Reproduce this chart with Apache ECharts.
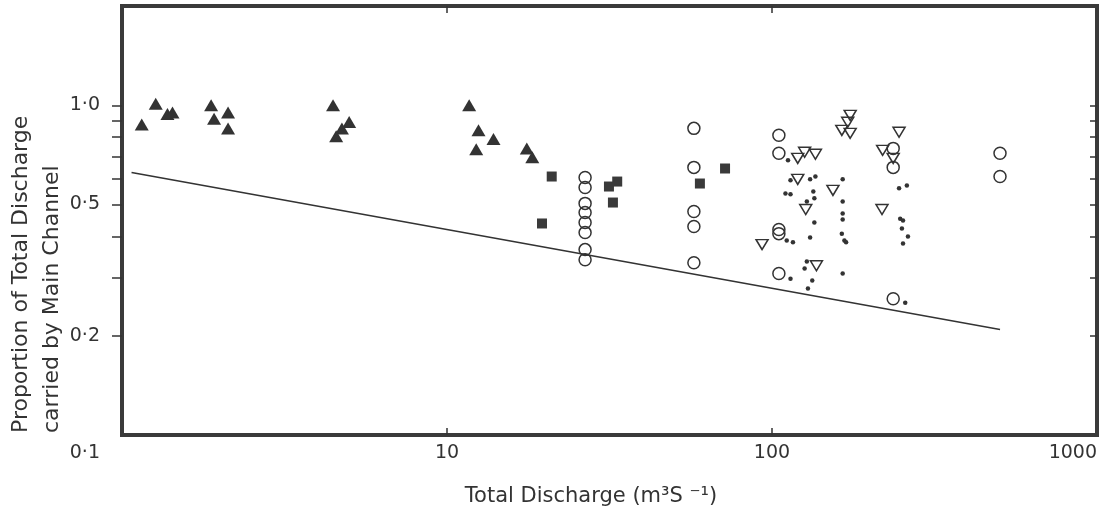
<!DOCTYPE html>
<html>
<head>
<meta charset="utf-8">
<title>Main channel share of total discharge</title>
<script src="https://cdn.jsdelivr.net/npm/echarts@6/dist/echarts.min.js"></script>
<style>
  html, body { margin: 0; padding: 0; background: #fff; }
  #chart { width: 1105px; height: 517px; }
</style>
</head>
<body>
<div id="chart"></div>
<script>
// [total discharge m3/s, proportion carried by main channel]
const triUp = [[1.15,0.875],[1.27,1.01],[1.38,0.94],[1.43,0.95],[1.88,1.0],[1.92,0.91],[2.12,0.95],[2.12,0.85],
  [4.46,1.0],[5.0,0.89],[4.75,0.85],[4.56,0.805],[11.7,1.0],[12.5,0.84],[13.9,0.79],[12.3,0.735],[17.6,0.74],[18.3,0.695]];
const squares = [[21.0,0.608],[19.6,0.438],[33.4,0.587],[31.5,0.567],[32.4,0.507],[60.0,0.579],[71.7,0.643]];
const circles = [[26.6,0.604],[26.6,0.563],[26.6,0.504],[26.6,0.473],[26.6,0.441],[26.6,0.411],[26.6,0.365],[26.6,0.340],
  [57.5,0.851],[57.5,0.648],[57.5,0.476],[57.5,0.429],[57.5,0.333],
  [105,0.811],[105,0.715],[105,0.420],[105,0.408],[105,0.309],
  [236,0.740],[236,0.648],[236,0.259],[503,0.715],[503,0.608]];
const triDown = [[174,0.932],[171,0.888],[164,0.839],[174,0.822],[246,0.828],[219,0.730],[236,0.690],[120,0.690],
  [126,0.720],[136,0.710],[120,0.596],[127,0.483],[93.2,0.378],[137,0.326],[154,0.552],[218,0.483]];
const dots = [[112,0.681],[114,0.592],[110,0.540],[114,0.537],[111,0.389],[116,0.384],[114,0.298],
  [131,0.596],[136,0.608],[134,0.548],[128,0.511],[135,0.522],[135,0.441],[131,0.397],[128,0.336],[126,0.320],[133,0.294],[129,0.278],
  [165,0.596],[165,0.511],[165,0.470],[165,0.450],[164,0.408],[167,0.389],[169,0.384],[165,0.309],
  [246,0.560],[260,0.571],[248,0.453],[253,0.447],[251,0.423],[262,0.400],[253,0.381],[257,0.252]];
const lineFit = [[1.07,0.625],[503,0.209]];

const xLabels = [10, 100, 1000];
const xTicks = [10, 100];
const yLabels = [0.1, 0.2, 0.5, 1.0];
const yTicks = [0.2, 0.3, 0.4, 0.5, 0.6, 0.7, 0.8, 0.9, 1.0];

const ink = '#333';
const font = '"DejaVu Sans", sans-serif';

let chart = echarts.init(document.getElementById('chart'));

let xAxisBase = {
  type: 'log', logBase: 10, min: 1, max: 1000,
  axisLine: { show: false },
  splitLine: { show: false },
  axisTick: { customValues: xTicks, inside: true, length: 7, lineStyle: { color: ink, width: 1.5 } }
};
let yAxisBase = {
  type: 'log', logBase: 10, min: 0.1, max: 2,
  axisLine: { show: false },
  splitLine: { show: false }
};

let option = {
  animation: false,
  backgroundColor: '#fff',
  grid: { left: 122, right: 8, top: 6, bottom: 82, show: true, borderColor: '#3a3a3a', borderWidth: 4 },
  xAxis: [
    Object.assign({}, xAxisBase, {
      position: 'bottom',
      axisLabel: {
        customValues: xLabels, margin: 9, color: ink, fontFamily: font, fontSize: 19,
        alignMaxLabel: 'right',
        formatter: v => String(Math.round(v))
      }
    }),
    Object.assign({}, xAxisBase, { position: 'top', axisLabel: { show: false } })
  ],
  yAxis: [
    Object.assign({}, yAxisBase, {
      position: 'left',
      axisTick: { customValues: yTicks, inside: false, length: 10, lineStyle: { color: ink, width: 1.5 } },
      axisLabel: {
        customValues: yLabels, margin: 22, color: ink, fontFamily: font, fontSize: 19,
        formatter: v => {
          let s = v.toFixed(1).replace('.', '·');
          return Math.abs(v - 0.1) < 1e-6 ? '{low|' + s + '}' : s;
        },
        rich: { low: { padding: [36, 0, 0, 0], fontFamily: font, fontSize: 19, color: ink } }
      }
    }),
    Object.assign({}, yAxisBase, {
      position: 'right',
      axisTick: { customValues: yTicks, inside: true, length: 7, lineStyle: { color: ink, width: 1.5 } },
      axisLabel: { show: false }
    })
  ],
  graphic: [
    { type: 'text', x: 21, y: 433, rotation: Math.PI / 2,
      style: { text: 'Proportion of Total Discharge', fill: ink, font: '22px ' + font, textAlign: 'left', textVerticalAlign: 'middle' } },
    { type: 'text', x: 52, y: 433, rotation: Math.PI / 2,
      style: { text: 'carried by Main Channel', fill: ink, font: '22px ' + font, textAlign: 'left', textVerticalAlign: 'middle' } },
    { type: 'text', x: 591, y: 497,
      style: { text: 'Total Discharge (m³S ⁻¹)', fill: ink, font: '21px ' + font, textAlign: 'center', textVerticalAlign: 'middle' } }
  ],
  series: [
    { name: 'triUp', type: 'scatter', data: triUp, symbol: 'triangle', symbolSize: [14, 12],
      itemStyle: { color: '#333', opacity: 1 } },
    { name: 'squares', type: 'scatter', data: squares, symbol: 'rect', symbolSize: 10,
      itemStyle: { color: '#3a3a3a', opacity: 1 } },
    { name: 'circles', type: 'scatter', data: circles, symbol: 'circle', symbolSize: 12,
      itemStyle: { color: 'rgba(0,0,0,0)', borderColor: ink, borderWidth: 1.5, opacity: 1 } },
    { name: 'triDown', type: 'scatter', data: triDown, symbol: 'triangle', symbolRotate: 180, symbolSize: [12, 10],
      itemStyle: { color: 'rgba(0,0,0,0)', borderColor: ink, borderWidth: 1.5, opacity: 1 } },
    { name: 'dots', type: 'scatter', data: dots, symbol: 'circle', symbolSize: 4.5,
      itemStyle: { color: '#333', opacity: 1 } },
    { name: 'fit', type: 'line', data: lineFit, showSymbol: false, silent: true,
      lineStyle: { color: '#333', width: 1.6 } }
  ]
};

chart.setOption(option);
</script>
</body>
</html>
